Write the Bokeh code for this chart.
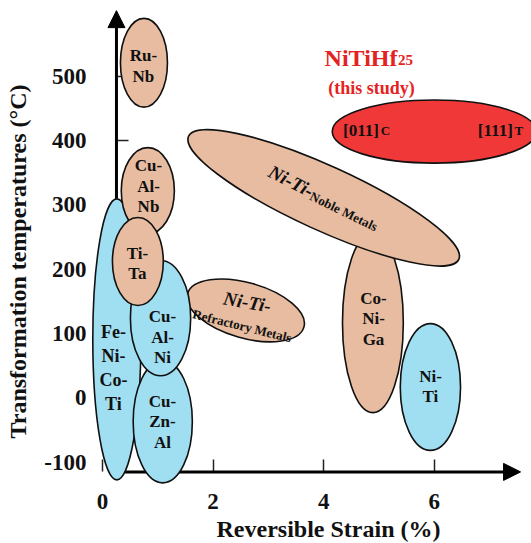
from bokeh.plotting import figure
from bokeh.models import Range1d, FixedTicker, Arrow, NormalHead, ColumnDataSource, LinearAxis
from bokeh.core.properties import value
from bokeh.embed import file_html
from bokeh.resources import INLINE
import math

# ---------------- data ----------------
# ellipses (drawn in this order)
names = ["Ru-Nb", "Fe-Ni-Co-Ti", "Ni-Ti-Refractory Metals", "Cu-Zn-Al", "Cu-Al-Ni",
         "Cu-Al-Nb", "Ti-Ta", "Co-Ni-Ga", "Ni-Ti-Noble Metals", "Ni-Ti", "NiTiHf25"]
strain_mid = [0.75, 0.26, 2.59, 1.09, 1.05, 0.82, 0.64, 4.89, 4.00, 5.93, 6.00]
temp_mid = [521, 91, 136, -37, 124, 322, 212, 117, 311, 17, 414]
strain_span = [0.85, 0.87, 2.19, 1.07, 1.09, 0.96, 0.92, 1.10, 5.37, 1.09, 3.69]
temp_span = [138, 437, 86, 190, 179, 134, 137, 280, 100, 197, 98]
tilt_deg = [0, 0, -16, 0, 0, 0, 0, 0, -24.5, 0, 0]
family = ["tan", "blue", "tan", "blue", "blue", "tan", "tan", "tan", "tan", "blue", "red"]

# labels inside ellipses
lab_text = ["Ru-\nNb", "Cu-\nAl-\nNb", "Ti-\nTa", "Cu-\nAl-\nNi", "Cu-\nZn-\nAl", "Co-\nNi-\nGa", "Ni-\nTi"]
lab_x = [0.741, 0.832, 0.633, 1.085, 1.085, 4.901, 5.931]
lab_y = [516, 329, 209, 94, -37, 123, 18]

fe_text = ["Fe-\nNi-\nCo-\nTi"]
fe_x = [0.199]
fe_y = [46]

niti_text = ["Ni-Ti-", "Ni-Ti-"]
niti_x = [2.617, 3.412]
niti_y = [149, 337]
niti_deg = [-10, -27]

sub_text = ["Refractory Metals", "Noble Metals"]
sub_x = [2.526, 4.363]
sub_y = [112, 290]
sub_deg = [-14, -26]

x_ticks = [0, 2, 4, 6]
y_ticks = [-100, 0, 100, 200, 300, 400, 500]

X_MIN, X_MAX = -1.844, 7.758
Y_MIN, Y_MAX = -226.3, 617.75
X_AXIS_AT = -115      # temperature where strain axis is drawn
Y_AXIS_AT = 0.253     # strain where temperature axis is drawn
X_ARROW_END = 7.56
Y_ARROW_END = 602

palette = {"tan": "#E8BCA0", "blue": "#A0DFF2", "red": "#F03838"}
SERIF = "Liberation Serif"

p = figure(width=531, height=543, output_backend="svg", toolbar_location=None,
           x_range=Range1d(X_MIN, X_MAX), y_range=Range1d(Y_MIN, Y_MAX),
           min_border=0, outline_line_color=None)
p.grid.visible = False
p.background_fill_color = "white"

# second strain axis that only carries the axis title (centred on its bounds)
xtitle_axis = LinearAxis()
p.add_layout(xtitle_axis, "below")


def style_axis(ax, loc, ticks):
    ax.fixed_location = loc
    ax.ticker = FixedTicker(ticks=ticks)
    ax.axis_line_color = None
    ax.major_tick_in = 12
    ax.major_tick_out = 0
    ax.minor_tick_line_color = None
    ax.major_tick_line_width = 1.5
    ax.major_tick_line_color = "#222222"
    ax.major_label_text_font = SERIF
    ax.major_label_text_font_style = "bold"
    ax.major_label_text_font_size = "23px"
    ax.major_label_text_color = "#111111"
    ax.axis_label_text_font = SERIF
    ax.axis_label_text_font_style = "bold"
    ax.axis_label_text_font_size = "24px"
    ax.axis_label_text_color = "#111111"
    ax.level = "underlay"


style_axis(p.xaxis[0], X_AXIS_AT, x_ticks)
style_axis(p.yaxis[0], Y_AXIS_AT, y_ticks)
style_axis(xtitle_axis, X_AXIS_AT, [])

p.xaxis[0].major_label_standoff = 22
xtitle_axis.axis_label = "Reversible Strain (%)"
xtitle_axis.bounds = (0.416, X_MAX)
xtitle_axis.major_tick_line_color = None
xtitle_axis.major_label_standoff = 0
xtitle_axis.axis_label_standoff = 44

p.yaxis[0].axis_label = "Transformation temperatures (°C)"
p.yaxis[0].bounds = (-100, 524)
p.yaxis[0].major_label_standoff = 30
p.yaxis[0].axis_label_standoff = 10
p.yaxis[0].major_label_overrides = {-100: "-100"}

# axis lines with arrow heads
p.add_layout(Arrow(end=NormalHead(size=17, fill_color="black", line_color="black", line_width=1),
                   x_start=Y_AXIS_AT, y_start=X_AXIS_AT, x_end=Y_AXIS_AT, y_end=Y_ARROW_END,
                   line_width=3, line_color="black", level="underlay"))
p.add_layout(Arrow(end=NormalHead(size=17, fill_color="black", line_color="black", line_width=1),
                   x_start=Y_AXIS_AT, y_start=X_AXIS_AT, x_end=X_ARROW_END, y_end=X_AXIS_AT,
                   line_width=3, line_color="black", level="underlay"))

# ellipses
src = ColumnDataSource(dict(
    x=strain_mid, y=temp_mid, w=strain_span, h=temp_span,
    a=[math.radians(d) for d in tilt_deg],
    c=[palette[f] for f in family]))
p.ellipse(x="x", y="y", width="w", height="h", angle="a", source=src,
          fill_color="c", line_color="#111111", line_width=1.6)

# labels
p.text(x=lab_x, y=lab_y, text=lab_text, text_font=value(SERIF), text_font_style="bold",
       text_font_size="17px", text_align="center", text_baseline="middle",
       text_line_height=1.08, text_color="#111111")
p.text(x=fe_x, y=fe_y, text=fe_text, text_font=value(SERIF), text_font_style="bold",
       text_font_size="18px", text_align="center", text_baseline="middle",
       text_line_height=1.2, text_color="#111111")
p.text(x=niti_x, y=niti_y, text=niti_text, angle=[math.radians(d) for d in niti_deg],
       text_font=value(SERIF), text_font_style="bold italic", text_font_size="19px",
       text_align="center", text_baseline="middle", text_color="#111111")
p.text(x=sub_x, y=sub_y, text=sub_text, angle=[math.radians(d) for d in sub_deg],
       text_font=value(SERIF), text_font_style="bold", text_font_size="13px",
       text_align="center", text_baseline="middle", text_color="#111111")

# orientation labels in red ellipse
p.text(x=[5.0, 7.42], y=[415, 415], text=["[011]", "[111]"], text_font=value(SERIF),
       text_font_style="bold", text_font_size="17px", text_align="right",
       text_baseline="middle", text_color="#111111")
p.text(x=[5.03, 7.45], y=[416, 416], text=["C", "T"], text_font=value(SERIF),
       text_font_style="bold", text_font_size="13px", text_align="left",
       text_baseline="middle", text_color="#111111")

# NiTiHf25 title
RED_TXT = "#E52222"
p.text(x=[5.335], y=[528], text=["NiTiHf"], text_font=value(SERIF), text_font_style="bold",
       text_font_size="24px", text_align="right", text_baseline="middle", text_color=RED_TXT)
p.text(x=[5.345], y=[525], text=["25"], text_font=value(SERIF), text_font_style="bold",
       text_font_size="15px", text_align="left", text_baseline="middle", text_color=RED_TXT)
p.text(x=[4.864], y=[482], text=["(this study)"], text_font=value(SERIF), text_font_style="bold",
       text_font_size="18px", text_align="center", text_baseline="middle", text_color=RED_TXT)

open("out.html", "w").write(file_html(p, INLINE))
